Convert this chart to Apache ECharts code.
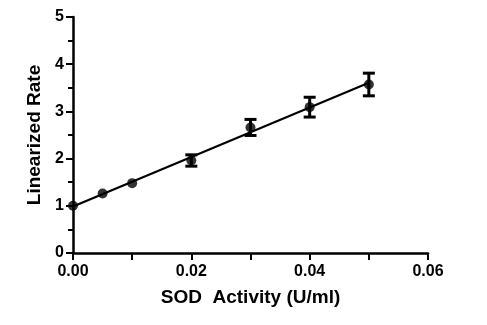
<!DOCTYPE html>
<html>
<head>
<meta charset="utf-8">
<script src="https://cdn.jsdelivr.net/npm/echarts@6/dist/echarts.min.js"></script>
<style>
  html, body { margin: 0; padding: 0; background: #fff; }
  #chart { width: 487px; height: 325px; }
</style>
</head>
<body>
<div id="chart"></div>
<script>
// SOD activity (U/ml) vs linearized rate, mean ± SD
const activity = [0, 0.005, 0.01, 0.02, 0.03, 0.04, 0.05];
const rate     = [1.00, 1.26, 1.48, 1.96, 2.66, 3.09, 3.57];
const rateSD   = [0, 0, 0, 0.12, 0.17, 0.21, 0.24];
const xTicks = [0, 0.02, 0.04, 0.06];
const yTicks = [0, 1, 2, 3, 4, 5];

// least-squares fit line through the means
function linearFit(xs, ys) {
  const n = xs.length;
  const mx = xs.reduce((a, b) => a + b, 0) / n;
  const my = ys.reduce((a, b) => a + b, 0) / n;
  let sxy = 0, sxx = 0;
  for (let i = 0; i < n; i++) {
    sxy += (xs[i] - mx) * (ys[i] - my);
    sxx += (xs[i] - mx) * (xs[i] - mx);
  }
  const slope = sxy / sxx;
  return { slope, intercept: my - slope * mx };
}
const fit = linearFit(activity, rate);
const xFirst = activity[0], xLast = activity[activity.length - 1];
const fitLine = [
  [xFirst, fit.intercept + fit.slope * xFirst],
  [xLast, fit.intercept + fit.slope * xLast]
];

const points = activity.map((x, i) => [x, rate[i]]);
const errBars = activity
  .map((x, i) => [x, rate[i] - rateSD[i], rate[i] + rateSD[i], rateSD[i]])
  .filter(d => d[3] > 0);

const font = "'Liberation Sans', Arial, sans-serif";
const ink = '#000';

const chart = echarts.init(document.getElementById('chart'));
chart.setOption({
  animation: false,
  backgroundColor: '#fff',
  grid: { left: 73, right: 59, top: 17, bottom: 72 },
  xAxis: {
    type: 'value',
    min: xTicks[0],
    max: xTicks[xTicks.length - 1],
    interval: xTicks[1] - xTicks[0],
    name: 'SOD  Activity (U/ml)',
    nameLocation: 'middle',
    nameGap: 35,
    nameTextStyle: { color: ink, fontFamily: font, fontWeight: 'bold', fontSize: 19 },
    axisLine: { show: true, onZero: false, lineStyle: { color: ink, width: 2.5 } },
    axisTick: { show: true, length: 7, lineStyle: { color: ink, width: 2 } },
    minorTick: { show: true, splitNumber: 2, length: 7, lineStyle: { color: ink, width: 2 } },
    splitLine: { show: false },
    axisLabel: {
      color: ink, fontFamily: font, fontWeight: 'bold', fontSize: 16, margin: 11,
      formatter: v => v.toFixed(2)
    }
  },
  yAxis: {
    type: 'value',
    min: yTicks[0],
    max: yTicks[yTicks.length - 1],
    interval: 1,
    name: 'Linearized Rate',
    nameLocation: 'middle',
    nameGap: 29,
    nameRotate: 90,
    nameTextStyle: { color: ink, fontFamily: font, fontWeight: 'bold', fontSize: 19 },
    axisLine: { show: true, onZero: false, lineStyle: { color: ink, width: 2.5 } },
    axisTick: { show: true, length: 7, lineStyle: { color: ink, width: 2 } },
    minorTick: { show: true, splitNumber: 2, length: 5, lineStyle: { color: ink, width: 2 } },
    splitLine: { show: false },
    axisLabel: { color: ink, fontFamily: font, fontWeight: 'bold', fontSize: 16, margin: 9 }
  },
  series: [
    {
      type: 'line',
      data: fitLine,
      showSymbol: false,
      lineStyle: { color: ink, width: 2.2 },
      z: 2
    },
    {
      type: 'custom',
      data: errBars,
      z: 3,
      renderItem: (params, api) => {
        const x = api.value(0);
        const top = api.coord([x, api.value(2)]);
        const bot = api.coord([x, api.value(1)]);
        const half = 6;
        const st = { stroke: ink, lineWidth: 3 };
        return {
          type: 'group',
          children: [
            { type: 'line', shape: { x1: top[0], y1: top[1], x2: bot[0], y2: bot[1] }, style: st },
            { type: 'line', shape: { x1: top[0] - half, y1: top[1], x2: top[0] + half, y2: top[1] }, style: st },
            { type: 'line', shape: { x1: bot[0] - half, y1: bot[1], x2: bot[0] + half, y2: bot[1] }, style: st }
          ]
        };
      }
    },
    {
      type: 'scatter',
      data: points,
      symbol: 'circle',
      symbolSize: 10,
      itemStyle: { color: ink },
      z: 4
    }
  ]
});
</script>
</body>
</html>
